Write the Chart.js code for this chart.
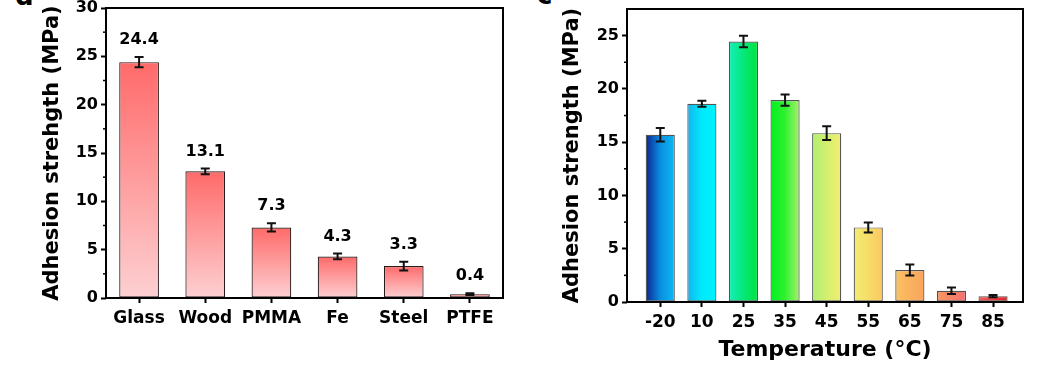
<!DOCTYPE html>
<html>
<head>
<meta charset="utf-8">
<script src="https://cdn.jsdelivr.net/npm/chart.js@4"></script>
<style>
  body { margin: 0; background: #fff; width: 1046px; height: 365px; overflow: hidden; position: relative; }
  .panel { position: absolute; top: 0; height: 365px; }
  .tag { position: absolute; font: bold 26px "DejaVu Sans"; line-height: 26px; color: #000; }
</style>
</head>
<body>
<div class="tag" style="left:15px;top:-17px">d</div>
<div class="tag" style="left:537px;top:-18px">c</div>
<div class="panel" style="left:0;width:520px"><canvas id="left_chart" width="520" height="365"></canvas></div>
<div class="panel" style="left:520px;width:526px"><canvas id="right_chart" width="526" height="365"></canvas></div>
<script>
// substrate panel
const materials = ['Glass', 'Wood', 'PMMA', 'Fe', 'Steel', 'PTFE'];
const materialStrength = [24.4, 13.1, 7.3, 4.3, 3.3, 0.4];
const materialError = [0.53, 0.3, 0.43, 0.3, 0.45, 0.1];

// temperature panel
const temps = ['-20', '10', '25', '35', '45', '55', '65', '75', '85'];
const tempStrength = [15.7, 18.6, 24.45, 18.95, 15.85, 7.0, 3.0, 1.05, 0.55];
const tempError = [0.63, 0.28, 0.55, 0.53, 0.64, 0.47, 0.52, 0.3, 0.1];

// horizontal gradient stops for each temperature bar
const tempColors = [
	['#0a2590', '#0a8ee0', '#0cbaf5'],
	['#12b4ef', '#00eafc', '#00f2ff'],
	['#12efbb', '#06e87a', '#00e23c'],
	['#00f020', '#30f030', '#a8f070'],
	['#aef070', '#d2ef70', '#f2ee70'],
	['#f2ee70', '#f6dc68', '#fbc862'],
	['#fbc260', '#fab25f', '#f9a45e'],
	['#f89860', '#f48468', '#f07272'],
	['#f06060', '#e84040', '#e02424']
];

Chart.defaults.font.family = 'DejaVu Sans';
Chart.defaults.font.weight = 'bold';
Chart.defaults.color = '#000';
Chart.defaults.plugins.legend.display = false;
Chart.defaults.plugins.tooltip.enabled = false;
Chart.defaults.animation = false;

// box round the plot area, minor y ticks, error bars, value labels
const frame = {
	id: 'frame',
	afterDatasetsDraw(chart, args, opts) {
		const ctx = chart.ctx, a = chart.chartArea, y = chart.scales.y;
		ctx.save();
		ctx.strokeStyle = '#000';
		ctx.lineWidth = 2;
		ctx.strokeRect(a.left, a.top, a.right - a.left, a.bottom - a.top);

		// minor ticks between the labelled ones
		ctx.lineWidth = 1.5;
		for (let v = 2.5; v < y.max; v += 5) {
			const py = y.getPixelForValue(v);
			ctx.beginPath();
			ctx.moveTo(a.left, py);
			ctx.lineTo(a.left - 3, py);
			ctx.stroke();
		}

		const meta = chart.getDatasetMeta(0);
		const vals = chart.data.datasets[0].data;
		ctx.strokeStyle = '#111';
		ctx.lineWidth = 2;
		ctx.fillStyle = '#000';
		ctx.font = 'bold 16px "DejaVu Sans"';
		ctx.textAlign = 'center';
		ctx.textBaseline = 'middle';
		meta.data.forEach(function(bar, i){
			const v = typeof vals[i] === 'object' ? vals[i].y : vals[i];
			const e = opts.errors[i];
			const top = y.getPixelForValue(v + e), bot = y.getPixelForValue(v - e);
			ctx.beginPath();
			ctx.moveTo(bar.x, top); ctx.lineTo(bar.x, bot);
			ctx.moveTo(bar.x - 4.5, top); ctx.lineTo(bar.x + 4.5, top);
			ctx.moveTo(bar.x - 4.5, bot); ctx.lineTo(bar.x + 4.5, bot);
			ctx.stroke();
			if (opts.labels)
				ctx.fillText(v.toFixed(1), bar.x, top - 17);
		});
		ctx.restore();
	}
};

function yAxis(max, width, titleText) {
	return {
		min: 0,
		max: max,
		afterBuildTicks: function(s){ s.ticks = s.ticks.filter(t => t.value % 5 === 0); },
		afterFit: function(s){ s.width = width; s.paddingTop = 0; s.paddingBottom = 0; },
		ticks: { stepSize: 5, padding: 3, font: { size: 16 } },
		grid: { drawOnChartArea: false, tickLength: 5, tickWidth: 2, tickColor: '#000' },
		border: { display: false },
		title: { display: true, text: titleText, font: { size: 21 }, padding: { top: 40, bottom: 0 } }
	};
}

new Chart(document.getElementById('left_chart'), {
	type: 'bar',
	data: {
		labels: materials,
		datasets: [{
			data: materialStrength,
			backgroundColor: function(c){
				const y = c.chart.scales.y;
				const y0 = y ? y.getPixelForValue(c.raw) : NaN, y1 = y ? y.getPixelForValue(0) : NaN;
				if (!isFinite(y0) || !isFinite(y1) || y0 === y1) return '#ff9a9a';
				const g = c.chart.ctx.createLinearGradient(0, y0, 0, y1);
				g.addColorStop(0, '#ff6a6a');
				g.addColorStop(1, '#fdd0d2');
				return g;
			},
			borderColor: '#2a1a1a',
			borderWidth: 1.2,
			borderSkipped: false,
			categoryPercentage: 1,
			barPercentage: 0.6
		}]
	},
	options: {
		responsive: false,
		layout: { padding: { left: 0, right: 17, top: 8, bottom: 0 } },
		scales: {
			x: {
				offset: true,
				afterFit: function(s){ s.height = 67; s.paddingLeft = 0; s.paddingRight = 0; },
				ticks: { padding: 5, font: { size: 17 }, maxRotation: 0 },
				grid: { drawOnChartArea: false, offset: false, tickLength: 5, tickWidth: 2, tickColor: '#000' },
				border: { display: false }
			},
			y: yAxis(30, 106, 'Adhesion strehgth (MPa)')
		},
		plugins: { frame: { errors: materialError, labels: true } }
	},
	plugins: [frame]
});

new Chart(document.getElementById('right_chart'), {
	type: 'bar',
	data: {
		datasets: [{
			data: tempStrength.map((v, i) => ({ x: i, y: v })),
			backgroundColor: function(c){
				const x = c.chart.scales.x;
				const stops = tempColors[c.dataIndex] || tempColors[0];
				const cx = x ? x.getPixelForValue(c.dataIndex) : NaN;
				const half = x ? (x.getPixelForValue(1) - x.getPixelForValue(0)) * 0.35 : NaN;
				if (!isFinite(cx) || !isFinite(half) || half <= 0) return stops[1];
				const g = c.chart.ctx.createLinearGradient(cx - half, 0, cx + half, 0);
				g.addColorStop(0, stops[0]);
				g.addColorStop(0.5, stops[1]);
				g.addColorStop(1, stops[2]);
				return g;
			},
			borderColor: 'rgba(40,40,40,0.8)',
			borderWidth: 1.2,
			borderSkipped: false,
			categoryPercentage: 1,
			barPercentage: 0.7
		}]
	},
	options: {
		responsive: false,
		layout: { padding: { left: 0, right: 23, top: 9, bottom: 0 } },
		scales: {
			x: {
				type: 'linear',
				offset: false,
				min: -0.8,
				max: 8.72,
				afterBuildTicks: function(s){ s.ticks = temps.map((t, i) => ({ value: i })); },
				afterFit: function(s){ s.height = 63; s.paddingLeft = 0; s.paddingRight = 0; },
				ticks: { padding: 5, font: { size: 17 }, maxRotation: 0, callback: v => temps[v] },
				grid: { drawOnChartArea: false, offset: false, tickLength: 5, tickWidth: 2, tickColor: '#000' },
				border: { display: false },
				title: { display: true, text: 'Temperature (°C)', font: { size: 22 }, padding: { top: 0, bottom: 2 } }
			},
			y: yAxis(27.5, 107, 'Adhesion strength (MPa)')
		},
		plugins: { frame: { errors: tempError, labels: false } }
	},
	plugins: [frame]
});
</script>
</body>
</html>
